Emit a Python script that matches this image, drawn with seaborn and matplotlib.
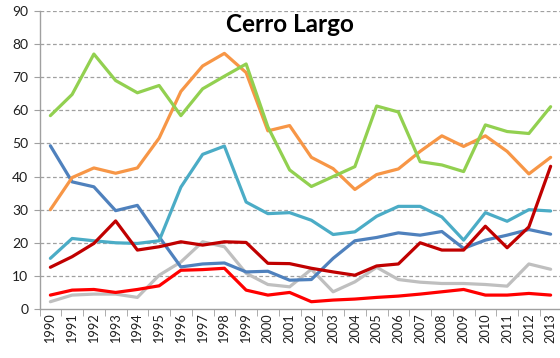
import matplotlib
matplotlib.use("Agg")
import matplotlib.pyplot as plt
from matplotlib.ticker import MultipleLocator
import numpy as np
import pandas as pd
import seaborn as sns

years = list(range(1990, 2014))

green_series = [58.4, 64.8, 77.0, 69.0, 65.3, 67.5, 58.4, 66.5, 70.3, 74.0, 55.0, 42.0,
                37.0, 40.0, 43.0, 61.3, 59.5, 44.5, 43.5, 41.5, 55.6, 53.6, 53.0, 61.1]
orange_series = [30.0, 39.7, 42.6, 41.0, 42.6, 51.6, 65.7, 73.4, 77.2, 71.4, 53.8, 55.4,
                 45.8, 42.4, 36.1, 40.6, 42.3, 47.6, 52.3, 49.1, 52.3, 47.6, 40.8, 45.8]
blue_series = [49.3, 38.4, 36.9, 29.7, 31.3, 21.8, 12.7, 13.6, 13.9, 11.2, 11.4, 8.7,
               8.9, 15.3, 20.6, 21.6, 23.0, 22.3, 23.4, 18.3, 20.8, 22.3, 24.0, 22.6]
cyan_series = [15.3, 21.3, 20.6, 20.0, 19.8, 20.6, 36.8, 46.7, 49.2, 32.3, 28.8, 29.1,
               26.8, 22.5, 23.3, 28.0, 31.0, 31.0, 27.8, 20.8, 29.1, 26.5, 30.0, 29.6]
darkred_series = [12.6, 15.8, 19.8, 26.6, 17.8, 18.8, 20.3, 19.3, 20.3, 20.1, 13.8, 13.7,
                  12.3, 11.2, 10.2, 13.0, 13.6, 20.0, 17.8, 17.8, 25.0, 18.5, 24.8, 43.1]
red_series = [4.2, 5.7, 5.9, 5.0, 5.9, 7.0, 11.7, 11.9, 12.3, 5.7, 4.2, 5.0,
              2.2, 2.7, 3.0, 3.5, 3.9, 4.5, 5.2, 5.9, 4.2, 4.2, 4.7, 4.2]
gray_series = [2.2, 4.2, 4.5, 4.5, 3.5, 10.2, 14.2, 20.3, 18.8, 10.8, 7.4, 6.7,
               12.0, 5.2, 8.2, 12.6, 8.9, 8.1, 7.7, 7.7, 7.4, 6.9, 13.6, 12.0]

series = {
    "gray": gray_series,
    "red": red_series,
    "blue": blue_series,
    "cyan": cyan_series,
    "darkred": darkred_series,
    "orange": orange_series,
    "green": green_series,
}
palette = {
    "green": "#92D050",
    "orange": "#F79646",
    "blue": "#4F81BD",
    "cyan": "#4BACC6",
    "darkred": "#C00000",
    "red": "#FF0000",
    "gray": "#BFBFBF",
}

df = pd.concat(
    [pd.DataFrame({"year": years, "value": v, "serie": k}) for k, v in series.items()],
    ignore_index=True,
)

sns.set_style("white")
plt.rcParams["font.family"] = ["Lato", "DejaVu Sans"]

fig = plt.figure(figsize=(5.6, 3.58), dpi=100)
ax = fig.add_axes([39.5 / 560, 1 - 309 / 358, 522 / 560, 298 / 358])

sns.lineplot(data=df, x="year", y="value", hue="serie", palette=palette,
             linewidth=2.3, legend=False, ax=ax, sort=False)

ax.set_xlim(1989.5, 2013.5)
ax.set_ylim(0, 90)
ax.yaxis.set_major_locator(MultipleLocator(10))
ax.set_xticks(years)
ax.set_xticklabels([str(y) for y in years], rotation=90)
ax.set_xticks([y - 0.5 for y in years] + [2013.5], minor=True)

grid_col = "#A0A0A0"
for v in range(10, 100, 10):
    ax.axhline(v, color=grid_col, lw=0.9, ls=(0, (3, 2)), zorder=0)

for s in ["top", "right"]:
    ax.spines[s].set_visible(False)
for s in ["left", "bottom"]:
    ax.spines[s].set_color("#A0A0A0")
    ax.spines[s].set_linewidth(1.0)

txt_col = "#1E1E1E"
ax.tick_params(axis="y", which="major", length=4, color="#A0A0A0", pad=4,
               labelsize=10, labelcolor=txt_col, left=True)
ax.tick_params(axis="x", which="major", length=0, pad=3,
               labelsize=9.2, labelcolor=txt_col, bottom=True)
ax.tick_params(axis="x", which="minor", length=5, color="#A0A0A0", bottom=True)

ax.set_xlabel("")
ax.set_ylabel("")

ax.text(0.48, 0.955, "Cerro Largo", transform=ax.transAxes, ha="center", va="center",
        fontsize=17.5, fontweight="bold", color="#000000")

fig.savefig("out.png", dpi=100)
